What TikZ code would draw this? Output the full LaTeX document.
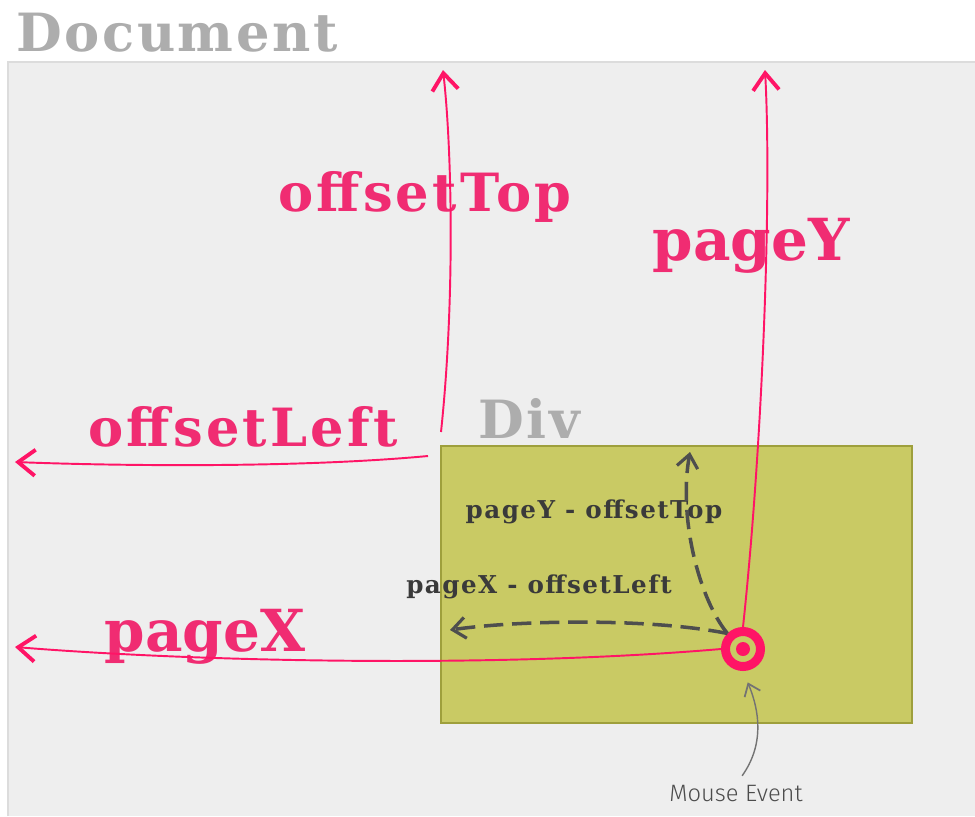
\documentclass[tikz,border=0pt]{standalone}
\usepackage{fontspec}
\usepackage{tikz}
\usetikzlibrary{arrows.meta}
\newfontfamily\slabfont{DejaVu Serif}
\newfontfamily\handfont{Fira Sans Light}
\definecolor{pagebg}{HTML}{EEEEEE}
\definecolor{pageline}{HTML}{DCDCDC}
\definecolor{divfill}{HTML}{C9CA64}
\definecolor{divline}{HTML}{9E9F3C}
\definecolor{hotpink}{HTML}{FF1466}
\definecolor{labelpink}{HTML}{F02C72}
\definecolor{titlegray}{HTML}{ADADAD}
\definecolor{inkgray}{HTML}{3A3A3A}

\begin{document}
\begin{tikzpicture}[
  x=0.02cm, y=-0.02cm,
  title/.style={inner sep=0pt,text=titlegray,
                font=\slabfont\bfseries\addfontfeatures{LetterSpace=5}\fontsize{30}{34}\selectfont},
  biglabel/.style={inner sep=0pt,text=labelpink,
                   font=\slabfont\bfseries\addfontfeatures{LetterSpace=6}\fontsize{30}{34}\selectfont},
  hugelabel/.style={inner sep=0pt,text=labelpink,
                    font=\slabfont\bfseries\fontsize{33}{37}\selectfont},
  sublabel/.style={inner sep=0pt,text=inkgray,
                   font=\slabfont\bfseries\addfontfeatures{LetterSpace=6}\fontsize{14}{17}\selectfont},
  note/.style={inner sep=0pt,text=black!70,font=\handfont\fontsize{13.5}{16}\selectfont},
  divbox/.style={rectangle,draw=divline,fill=divfill,line width=0.8pt,
                 minimum width=9.42cm,minimum height=5.54cm,inner sep=0pt},
  target/.style={circle,draw=hotpink,line width=0.18cm,minimum size=0.7cm,inner sep=0pt},
  parr/.style={-{Straight Barb[length=3.4mm,width=5.2mm,line width=2.2pt]},hotpink,line width=1.1pt},
  darr/.style={-{Straight Barb[length=2.6mm,width=4.2mm,line width=1.8pt]},inkgray!90,line width=2pt,
               dash pattern=on 11pt off 5pt},
  garr/.style={-{Straight Barb[length=2.2mm,width=3.4mm,line width=1pt]},black!55,line width=0.8pt},
]

\useasboundingbox (0,0) rectangle (975,816);
\fill[white] (0,0) rectangle (975,816);
\fill[pagebg] (8,62) rectangle (975,816);
\draw[pageline,line width=1pt] (8,816) -- (8,62) -- (975,62);

\node[title] (doc) at (177,33) {Document};
\node[title] (divname) at (529,418) {Div};
\node[divbox] (div) at (676.5,584.5) {};
\node[target] (mouse) at (743,649) {};
\fill[hotpink] (mouse.center) circle (0.14cm);

\node[biglabel] (offtop) at (425,197) {offsetTop};
\node[hugelabel] (pagey) at (751,246) {pageY};
\node[biglabel] (offleft) at (243,427) {offsetLeft};
\node[hugelabel] (pagex) at (205,637) {pageX};
\node[sublabel] (relY) at (594,512) {pageY - offsetTop};
\node[sublabel] (relX) at (539,587) {pageX - offsetLeft};
\node[note] (event) at (736,793) {Mouse Event};

\coordinate (topstart) at (441,432);
\coordinate (topend) at (443,70);
\coordinate (leftstart) at (428,456);
\coordinate (leftend) at (15,462);
\coordinate (pageyend) at (765,70);
\coordinate (pagexend) at (15,647);
\coordinate (relyend) at (690,452);
\coordinate (relxend) at (450,630);

\draw[parr] (topstart) .. controls (455,300) and (452,150) .. (topend);
\draw[parr] (leftstart) .. controls (300,468) and (120,466) .. (leftend);
\draw[parr] (mouse.north) .. controls (762,450) and (772,200) .. (pageyend);
\draw[parr] (mouse.west) .. controls (500,668) and (200,662) .. (pagexend);
\draw[darr] (mouse.north west) .. controls (700,600) and (678,520) .. (relyend);
\draw[darr] (mouse.north west) .. controls (650,618) and (520,620) .. (relxend);
\draw[garr,shorten <=6pt,shorten >=7pt] (event.north) .. controls (764,745) and (760,712) .. (mouse.south);

\end{tikzpicture}
\end{document}
